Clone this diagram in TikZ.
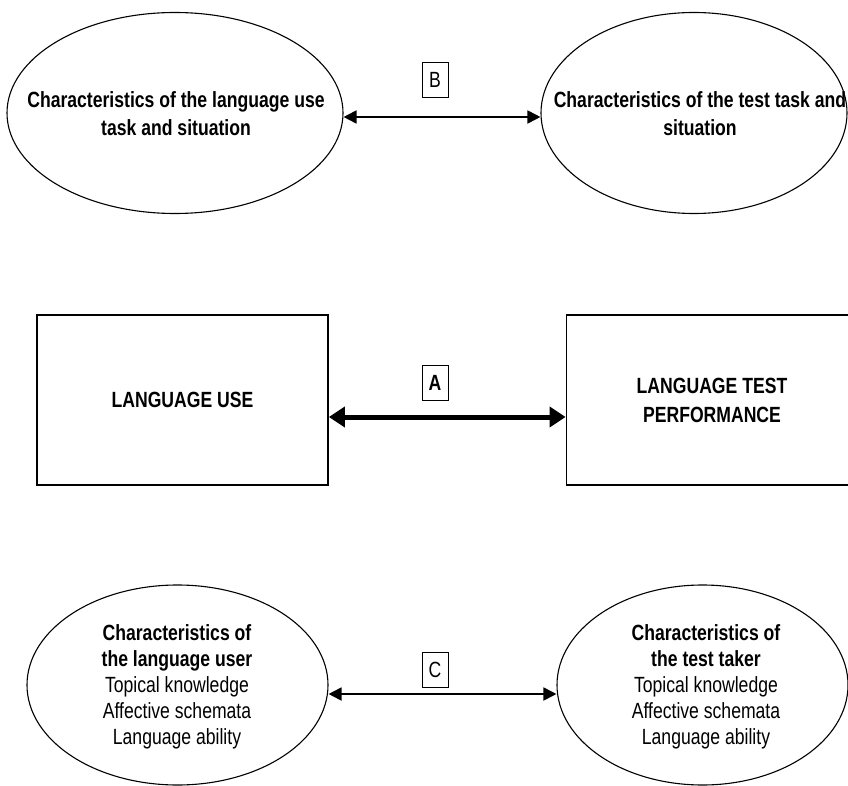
\documentclass[tikz,border=0pt]{standalone}
\usepackage{fontspec}
\setmainfont[FakeStretch=0.8]{Liberation Sans}
\usetikzlibrary{arrows.meta,shapes.geometric}
\begin{document}
\begin{tikzpicture}[x=1pt,y=-1pt,
 every node/.style={font=\fontsize{22}{26}\selectfont, align=center, inner sep=0pt},
 oval/.style={draw, ellipse, line width=1.1pt},
 rbox/.style={draw, rectangle, line width=1.8pt, font=\fontsize{22}{29}\selectfont\bfseries},
 lbl/.style={draw, line width=0.9pt, minimum width=26pt, minimum height=35pt},
 thinarrow/.style={line width=1.8pt, {Triangle[length=13pt,width=13pt]}-{Triangle[length=13pt,width=13pt]}},
 thickarrow/.style={line width=5pt, {Triangle[length=16pt,width=20pt]}-{Triangle[length=16pt,width=20pt]}}]
\clip (0,0) rectangle (848,786);
\fill[white] (0,0) rectangle (848,786);
% top row
\node[oval, minimum width=336pt, minimum height=201pt] (tl) at (175,113) {};
\node[font=\fontsize{22}{28}\selectfont\bfseries] (tlt) at (176,114) {Characteristics of the language use\\task and situation};
\node[oval, minimum width=306pt, minimum height=201pt] (tr) at (694,113) {};
\node[font=\fontsize{22}{28}\selectfont\bfseries] (trt) at (700,114) {Characteristics of the test task and\\situation};
\node[lbl] (lb) at (435,80) {B};
\draw[thinarrow] ([yshift=-4pt]tl.east) -- ([yshift=-4pt]tr.west);
% middle row
\node[rbox, minimum width=291pt, minimum height=170pt] (lu) at (182.5,400) {LANGUAGE USE};
\node[rbox, minimum width=291pt, minimum height=170pt] (ltp) at (712,400) {LANGUAGE TEST\\PERFORMANCE};
\node[lbl] (la) at (435,383) {\bfseries A};
\draw[thickarrow] ([yshift=-17pt]lu.east) -- ([yshift=-17pt]ltp.west);
% bottom row
\node[oval, minimum width=301pt, minimum height=200pt] (bl) at (177.5,685) {};
\node (blt) at (177,687) {\textbf{Characteristics of}\\\textbf{the language user}\\Topical knowledge\\Affective schemata\\Language ability};
\node[oval, minimum width=291pt, minimum height=200pt] (br) at (702.5,685) {};
\node (brt) at (706,687) {\textbf{Characteristics of}\\\textbf{the test taker}\\Topical knowledge\\Affective schemata\\Language ability};
\node[lbl] (lc) at (435,670) {C};
\draw[thinarrow] ([yshift=-9pt]bl.east) -- ([yshift=-9pt]br.west);
\end{tikzpicture}
\end{document}
